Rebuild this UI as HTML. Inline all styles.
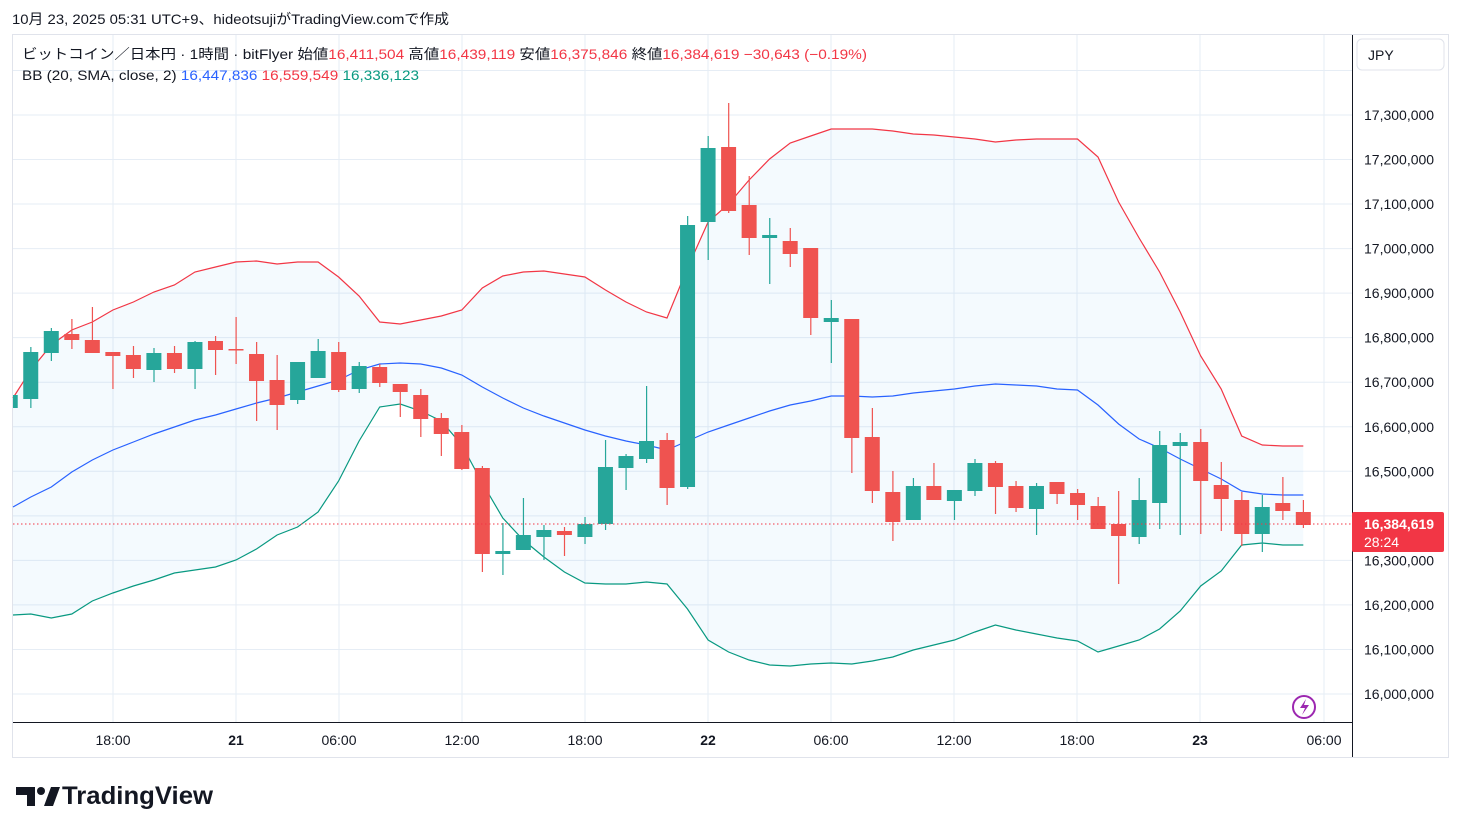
<!DOCTYPE html>
<html><head><meta charset="utf-8">
<style>
body{margin:0;width:1462px;height:833px;background:#fff;overflow:hidden;font-family:"Liberation Sans","Noto Sans CJK JP",sans-serif;}
svg{position:absolute;left:0;top:0}
</style></head><body>
<svg id="s" width="1462" height="833" xmlns="http://www.w3.org/2000/svg" font-family="Liberation Sans, Noto Sans CJK JP, sans-serif">
<text x="12" y="24" font-size="14" fill="#131722" textLength="437" lengthAdjust="spacingAndGlyphs">10月 23, 2025 05:31 UTC+9、hideotsujiがTradingView.comで作成</text>
<rect x="12.5" y="34.5" width="1436" height="723" fill="none" stroke="#e0e3eb"/>
<g id="grid"></g>
<polygon id="band" fill="#2196f3" fill-opacity="0.05"/>
<polyline id="up" fill="none" stroke="#f23645" stroke-width="1.2"/>
<polyline id="mid" fill="none" stroke="#2962ff" stroke-width="1.2"/>
<polyline id="lo" fill="none" stroke="#089981" stroke-width="1.2"/>
<g id="c"></g>
<line x1="13" y1="524" x2="1352" y2="524" stroke="#f23645" stroke-dasharray="1.5 2.5"/>
<line x1="1352.5" y1="35" x2="1352.5" y2="757" stroke="#131722"/>
<line x1="13" y1="722.5" x2="1352" y2="722.5" stroke="#131722"/>
<g id="ax" font-size="14" fill="#131722"></g>
<rect x="1357" y="39" width="87" height="31" rx="5" fill="#fff" stroke="#e0e3eb"/>
<text x="1368" y="60" font-size="14" fill="#131722">JPY</text>
<rect x="1352" y="512" width="92" height="40" rx="2" fill="#f23645"/>
<text x="1364" y="529" font-size="14" fill="#fff" font-weight="bold">16,384,619</text>
<text x="1364" y="547" font-size="14" fill="#fff">28:24</text>
<text x="22" y="59" font-size="14" fill="#131722" textLength="845" lengthAdjust="spacingAndGlyphs">ビットコイン／日本円 · 1時間 · bitFlyer  始値<tspan fill="#f23645">16,411,504</tspan>  高値<tspan fill="#f23645">16,439,119</tspan>  安値<tspan fill="#f23645">16,375,846</tspan>  終値<tspan fill="#f23645">16,384,619</tspan> <tspan fill="#f23645">−30,643 (−0.19%)</tspan></text>
<text x="22" y="80" font-size="14" fill="#131722" textLength="397" lengthAdjust="spacingAndGlyphs">BB (20, SMA, close, 2)  <tspan fill="#2962ff">16,447,836</tspan>  <tspan fill="#f23645">16,559,549</tspan>  <tspan fill="#089981">16,336,123</tspan></text>
<circle cx="1304" cy="707" r="11" fill="none" stroke="#9c27b0" stroke-width="2"/>
<path d="M1306 699 L1300 708 L1305 708 L1302 715 L1309 705 L1304 705 Z" fill="#9c27b0"/>
<path d="M16 787h19v19h-8v-11h-11z M44 806l7-19h9l-7 19z" fill="#131722"/><circle cx="41" cy="791" r="4" fill="#131722"/>
<text x="62" y="804" font-size="25" font-weight="bold" fill="#131722" textLength="151" lengthAdjust="spacingAndGlyphs">TradingView</text>
</svg>
<script>
const N="http://www.w3.org/2000/svg";
function el(p,t,a,txt){const e=document.createElementNS(N,t);for(const k in a)e.setAttribute(k,a[k]);if(txt)e.textContent=txt;p.appendChild(e);return e;}
const g=document.getElementById('grid'),ax=document.getElementById('ax');
const prices=["16,000,000","16,100,000","16,200,000","16,300,000","16,400,000","16,500,000","16,600,000","16,700,000","16,800,000","16,900,000","17,000,000","17,100,000","17,200,000","17,300,000","17,400,000"];
prices.forEach((p,i)=>{const y=694-i*44.54;el(g,'line',{x1:13,x2:1352,y1:y,y2:y,stroke:'#e6edf5'});if(i!=4&&i!=14)el(ax,'text',{x:1364,y:y+5,fill:'#131722'},p);});
[[113,"18:00"],[236,"21"],[339,"06:00"],[462,"12:00"],[585,"18:00"],[708,"22"],[831,"06:00"],[954,"12:00"],[1077,"18:00"],[1200,"23"],[1324,"06:00"]].forEach(([x,t])=>{el(g,'line',{x1:x,x2:x,y1:35,y2:722,stroke:'#e6edf5'});const b=(t.length==2);el(ax,'text',{x:x,y:745,'text-anchor':'middle','font-weight':b?'bold':'normal'},t);});
const xs=h=>236+h*20.525;
const up=[398,370,345,330,322,310,302,292,285,272,267,262,261,264,262,262,277,296,322,324,320,316,310,288,276,272,271,274,277,290,302,312,318,268,222,204,180,159,143,136,129,129,129,131,134,135,137,139,142,140,139,139,139,157,202,238,272,312,356,389,436,445,446,446];
const mid=[507,497,487,472,460,450,442,434,427,420,415,409,403,398,392,386,380,370,364,363,364,368,375,387,398,408,416,423,430,436,441,445,450,441,432,425,418,411,405,401,396,396,397,396,393,391,389,386,384,385,386,389,390,405,424,439,448,459,469,479,491,494,495,495];
const lo=[615,614,618,614,601,593,586,580,573,570,567,560,549,535,527,512,481,441,407,404,411,421,445,483,518,540,557,572,583,584,584,582,584,609,640,652,660,665,666,664,663,664,661,657,650,645,640,632,625,630,634,638,641,652,646,640,629,611,586,571,545,543,545,545];
const pt=a=>a.map((y,i)=>(i==0?13:xs(i-11)).toFixed(1)+','+y).join(' ');
document.getElementById('up').setAttribute('points',pt(up));
document.getElementById('mid').setAttribute('points',pt(mid));
document.getElementById('lo').setAttribute('points',pt(lo));
document.getElementById('band').setAttribute('points',pt(up)+' '+lo.map((y,i)=>(i==0?13:xs(i-11)).toFixed(1)+','+y).reverse().join(' '));
const C=[
['g',395,408,395,408],['g',352,399,347,408],['g',331,353,328,361],['r',334,340,319,349],['r',340,353,307,353],['r',352,356,352,389],['r',355,369,346,378],['g',353,370,348,382],['r',353,369,346,373],['g',342,369,341,389],['r',341,350,336,375],['r',349,350,317,364],
['r',354,381,342,421],['r',380,405,355,430],['g',362,400,362,404],['g',351,378,339,378],['r',352,390,342,392],['g',366,389,362,393],['r',367,383,364,387],['r',384,392,384,417],['r',395,419,389,437],['r',418,434,413,456],['r',432,469,425,470],
['r',468,554,466,572],['g',551,554,523,575],['g',535,550,498,550],['g',530,537,525,560],['r',531,535,527,556],['g',524,537,517,544],['g',467,524,440,530],['g',456,468,454,490],['g',441,459,386,463],['r',440,488,433,505],['g',225,487,216,489],['g',148,222,136,260],['r',147,211,103,213],['r',205,238,176,255],['g',235,238,218,284],['r',241,254,228,267],['r',248,318,248,335],['g',318,322,300,363],['r',319,438,319,473],['r',437,491,408,503],
['r',492,522,471,541],['g',486,520,478,520],['r',486,500,463,500],['g',490,501,490,520],['g',463,491,459,496],['r',463,487,461,514],['r',486,508,481,512],['g',486,509,483,535],['r',482,494,482,504],['r',493,505,489,520],['r',506,529,497,529],['r',524,536,491,584],['g',500,537,478,544],['g',445,503,431,529],['g',442,446,433,535],['r',442,481,429,534],['r',485,499,462,531],['r',500,534,492,546],['g',507,534,495,552],['r',503,511,477,520],['r',512,525,500,528]];
const cg=document.getElementById('c');
C.forEach((c,i)=>{const x=xs(i-11);const col=c[0]=='g'?'#26a69a':'#ef5350';let bx=x-7.5,bw=15;if(bx<13){bw-=13-bx;bx=13;}
if(x>=13)el(cg,'rect',{x:x-0.5,y:c[3],width:1.2,height:c[4]-c[3],fill:col});
el(cg,'rect',{x:bx,y:c[1],width:bw,height:Math.max(1.5,c[2]-c[1]),fill:col});});
</script>
</body></html>
